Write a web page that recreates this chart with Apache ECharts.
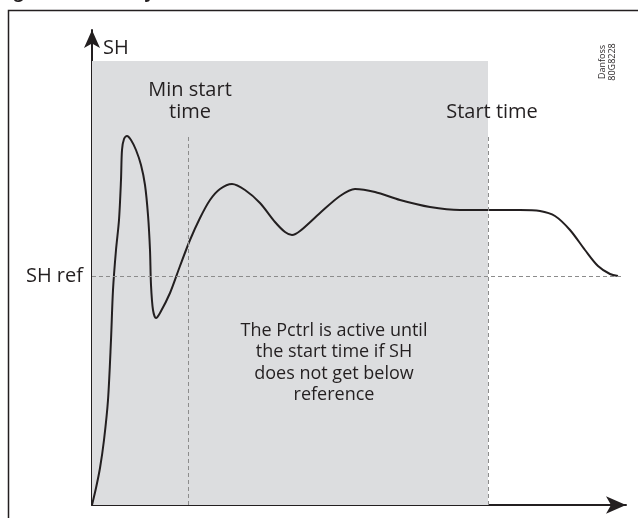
<!DOCTYPE html>
<html>
<head>
<meta charset="utf-8">
<script src="https://cdn.jsdelivr.net/npm/echarts@6/dist/echarts.min.js"></script>
<style>
html,body{margin:0;padding:0;background:#fff;}
#c{width:638px;height:518px;}
</style>
</head>
<body>
<div id="c"></div>
<script>
// Curve (time, SH) in drawing units
var time = [0,4,8,12,16,19,21,24,27,29,30,32,35,39,44,49,53,56,58,59,61,64,68,78,88,98,108,118,128,140,153,168,183,193,200,208,228,248,263,283,308,338,368,398,428,448,463,478,493,506,518,526];
var sh   = [0,17,37,65,105,165,215,255,285,325,355,366,369,365,355,340,320,290,255,220,195,187,192,212,239,265,287,305,316,321,315,302,283,273,270,274,292,309,316,313,305,298,295,295,295,294,289,275,255,239,231,229];
var shRef = 229;
var minStartTime = 96;
var startTime = 396;
var activeTop = 444;     // top of the shaded "Pctrl active" zone
var markerTop = 368;     // top of the dashed time markers
var refLineEnd = 530;
var xMax = 534, yMax = 475;

var titleText = 'Figure 15.5: SH reference';
var yLabel = 'SH';
var refLabel = 'SH ref';
var minStartLabel = ['Min start', 'time'];
var startLabel = 'Start time';
var noteLines = ['The Pctrl is active until', 'the start time if SH', 'does not get below', 'reference'];
var stampLines = ['Danfoss', '80G8228'];

var FONT = '"Open Sans", "Liberation Sans", sans-serif';
var INK = '#231f20';

var chart = echarts.init(document.getElementById('c'), null, {renderer: 'canvas'});

var lineData = time.map(function (t, i) { return [t, sh[i]]; });
var dashStyle = {color: '#8c8c8c', width: 1, type: [4, 3]};

chart.setOption({
  animation: false,
  backgroundColor: '#fff',
  grid: {left: 92, top: 30, right: 12, bottom: 13, containLabel: false},
  xAxis: {
    type: 'value', min: 0, max: xMax,
    axisLine: {show: true, symbol: ['none', 'arrow'], symbolSize: [13, 20], symbolOffset: [0, 0], lineStyle: {color: INK, width: 2}},
    axisTick: {show: false}, axisLabel: {show: false}, splitLine: {show: false}
  },
  yAxis: {
    type: 'value', min: 0, max: yMax,
    axisLine: {show: true, symbol: ['none', 'arrow'], symbolSize: [12, 18], symbolOffset: [0, 0], lineStyle: {color: INK, width: 2}},
    axisTick: {show: false}, axisLabel: {show: false}, splitLine: {show: false}
  },
  series: [
    {
      type: 'line',
      data: [],
      markArea: {
        silent: true,
        itemStyle: {color: '#dcdddf'},
        data: [[{coord: [0, 0]}, {coord: [startTime, activeTop]}]]
      },
      z: 1
    },
    {
      type: 'line',
      data: [],
      markLine: {
        silent: true,
        symbol: ['none', 'none'],
        label: {show: false},
        lineStyle: dashStyle,
        data: [
          [{coord: [minStartTime, 0]}, {coord: [minStartTime, markerTop]}],
          [{coord: [startTime, 0]}, {coord: [startTime, markerTop]}],
          [{coord: [0, shRef]}, {coord: [refLineEnd, shRef]}]
        ]
      },
      z: 2
    },
    {
      type: 'line',
      data: lineData,
      smooth: 0.3,
      showSymbol: false,
      lineStyle: {color: INK, width: 2},
      z: 3
    }
  ],
  graphic: [
    {type: 'rect', shape: {x: 8.5, y: 10.5, width: 700, height: 600}, style: {fill: 'none', stroke: INK, lineWidth: 1.5}, silent: true, z: 0},
    {type: 'text', left: 0, top: -16, z: 100, style: {text: titleText, font: 'italic bold 18px ' + FONT, fill: INK}},
    {type: 'text', x: 103, y: 48, z: 100, style: {text: yLabel, font: '20px ' + FONT, fill: INK, verticalAlign: 'middle'}},
    {type: 'text', x: 83, y: 276, z: 100, style: {text: refLabel, font: '20px ' + FONT, fill: INK, align: 'right', verticalAlign: 'middle'}},
    {type: 'text', x: 190, y: 101, z: 100, style: {text: minStartLabel.join('\n'), font: '20px ' + FONT, fill: INK, align: 'center', verticalAlign: 'middle', lineHeight: 22}},
    {type: 'text', x: 492, y: 112, z: 100, style: {text: startLabel, font: '20px ' + FONT, fill: INK, align: 'center', verticalAlign: 'middle'}},
    {type: 'text', x: 334, y: 363, z: 100, style: {text: noteLines.join('\n'), font: '18px ' + FONT, fill: INK, align: 'center', verticalAlign: 'middle', lineHeight: 21.5}},
    {type: 'text', x: 607, y: 62, z: 100, rotation: Math.PI / 2, style: {text: stampLines.join('\n'), font: '9px ' + FONT, fill: INK, align: 'center', verticalAlign: 'middle', lineHeight: 10}}
  ]
});
</script>
</body>
</html>
